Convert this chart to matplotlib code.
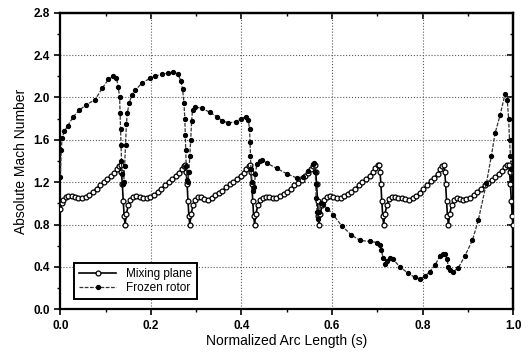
import numpy as np
import matplotlib
matplotlib.use("Agg")
import matplotlib.pyplot as plt
from matplotlib.ticker import MultipleLocator, FormatStrFormatter

plt.rcParams['font.family'] = ['Liberation Sans', 'DejaVu Sans']

# mixing plane (open circles)
mix_x = [0.000, 0.003, 0.007, 0.012, 0.018, 0.025, 0.032, 0.040, 0.048, 0.056, 0.064, 0.072, 0.080,
         0.088, 0.096, 0.104, 0.112, 0.119, 0.125, 0.130, 0.133, 0.135, 0.137, 0.139, 0.141,
         0.143, 0.146, 0.150, 0.155, 0.161, 0.168, 0.175, 0.183, 0.191, 0.199, 0.207, 0.215, 0.223,
         0.231, 0.239, 0.247, 0.255, 0.262, 0.268, 0.273, 0.276, 0.278, 0.280, 0.282, 0.284,
         0.286, 0.289, 0.293, 0.298, 0.304, 0.311, 0.318, 0.326, 0.334, 0.342, 0.350, 0.358, 0.366,
         0.374, 0.382, 0.390, 0.398, 0.405, 0.411, 0.416, 0.419, 0.421, 0.423, 0.425, 0.427,
         0.429, 0.432, 0.436, 0.441, 0.447, 0.454, 0.461, 0.469, 0.477, 0.485, 0.493, 0.501, 0.509,
         0.517, 0.525, 0.533, 0.541, 0.548, 0.554, 0.559, 0.562, 0.564, 0.566, 0.568, 0.570,
         0.571, 0.574, 0.578, 0.583, 0.589, 0.596, 0.603, 0.611, 0.619, 0.627, 0.635, 0.643, 0.651,
         0.659, 0.667, 0.675, 0.683, 0.690, 0.696, 0.701, 0.704, 0.706, 0.708, 0.710, 0.712,
         0.714, 0.717, 0.721, 0.726, 0.732, 0.739, 0.746, 0.754, 0.762, 0.770, 0.778, 0.786, 0.794,
         0.802, 0.810, 0.818, 0.826, 0.833, 0.839, 0.844, 0.847, 0.849, 0.851, 0.853, 0.855,
         0.857, 0.860, 0.864, 0.869, 0.875, 0.882, 0.889, 0.897, 0.905, 0.913, 0.921, 0.929, 0.937,
         0.945, 0.953, 0.961, 0.969, 0.976, 0.982, 0.987, 0.990, 0.992, 0.994, 0.996, 0.998, 1.000]
mix_y = [0.95, 1.00, 1.03, 1.06, 1.07, 1.07, 1.06, 1.05, 1.05, 1.06, 1.08, 1.11, 1.14,
         1.17, 1.20, 1.23, 1.26, 1.29, 1.32, 1.35, 1.36, 1.30, 1.18, 1.02, 0.88,
         0.80, 0.90, 0.98, 1.03, 1.06, 1.07, 1.06, 1.05, 1.05, 1.06, 1.08, 1.11, 1.14,
         1.17, 1.20, 1.23, 1.26, 1.29, 1.32, 1.35, 1.36, 1.30, 1.18, 1.02, 0.88,
         0.80, 0.90, 0.98, 1.03, 1.06, 1.06, 1.04, 1.03, 1.05, 1.08, 1.10, 1.12, 1.15,
         1.18, 1.20, 1.23, 1.26, 1.29, 1.32, 1.35, 1.36, 1.30, 1.18, 1.02, 0.88,
         0.80, 0.90, 0.98, 1.03, 1.05, 1.06, 1.06, 1.05, 1.05, 1.07, 1.09, 1.11, 1.14,
         1.17, 1.19, 1.22, 1.26, 1.29, 1.32, 1.35, 1.36, 1.30, 1.18, 1.02, 0.88,
         0.80, 0.90, 0.98, 1.03, 1.06, 1.07, 1.06, 1.05, 1.05, 1.07, 1.09, 1.11, 1.14,
         1.17, 1.20, 1.23, 1.26, 1.30, 1.33, 1.36, 1.36, 1.30, 1.18, 1.02, 0.88,
         0.80, 0.90, 0.98, 1.04, 1.06, 1.06, 1.05, 1.05, 1.04, 1.03, 1.05, 1.07, 1.10,
         1.14, 1.17, 1.21, 1.24, 1.28, 1.32, 1.35, 1.36, 1.30, 1.18, 1.02, 0.88,
         0.80, 0.90, 0.98, 1.03, 1.05, 1.04, 1.03, 1.04, 1.05, 1.08, 1.11, 1.14, 1.17,
         1.19, 1.22, 1.25, 1.28, 1.31, 1.34, 1.36, 1.36, 1.30, 1.18, 1.02, 0.88, 0.80]

# frozen rotor (filled dots)
frz_x = [0.000, 0.002, 0.004, 0.009, 0.016, 0.029, 0.042, 0.057, 0.077, 0.093, 0.106, 0.117, 0.124,
         0.128, 0.131, 0.132, 0.133, 0.134, 0.135, 0.136, 0.138, 0.140, 0.142, 0.144, 0.146, 0.148,
         0.152, 0.158, 0.166, 0.181, 0.198, 0.209, 0.224, 0.238, 0.249, 0.260, 0.266, 0.270, 0.273,
         0.275, 0.276, 0.277, 0.278, 0.280, 0.282, 0.284, 0.286, 0.288, 0.290, 0.292, 0.297, 0.312,
         0.330, 0.345, 0.358, 0.371, 0.389, 0.400, 0.410, 0.415, 0.418, 0.419, 0.420, 0.421, 0.423,
         0.425, 0.428, 0.431, 0.434, 0.440, 0.445, 0.456, 0.478, 0.500, 0.522, 0.536, 0.548, 0.557,
         0.561, 0.563, 0.564, 0.565, 0.567, 0.569, 0.572, 0.575, 0.580, 0.590, 0.603, 0.621, 0.643,
         0.662, 0.684, 0.700, 0.705, 0.709, 0.713, 0.717, 0.722, 0.728, 0.735, 0.750, 0.768, 0.783,
         0.794, 0.805, 0.816, 0.828, 0.838, 0.845, 0.850, 0.854, 0.857, 0.860, 0.868, 0.879, 0.893,
         0.910, 0.923, 0.941, 0.952, 0.960, 0.971, 0.982, 0.987, 0.990, 0.992, 0.994, 0.996, 0.998,
         1.000]
frz_y = [1.25, 1.50, 1.62, 1.68, 1.73, 1.82, 1.88, 1.93, 1.98, 2.09, 2.17, 2.20, 2.18,
         2.10, 2.00, 1.85, 1.70, 1.55, 1.40, 1.28, 1.18, 1.20, 1.35, 1.55, 1.75, 1.85,
         1.95, 2.02, 2.07, 2.14, 2.18, 2.20, 2.22, 2.23, 2.24, 2.22, 2.16, 2.08, 1.95,
         1.80, 1.65, 1.50, 1.35, 1.22, 1.20, 1.30, 1.45, 1.60, 1.78, 1.88, 1.91, 1.90,
         1.86, 1.82, 1.78, 1.76, 1.77, 1.80, 1.82, 1.79, 1.70, 1.58, 1.45, 1.32, 1.20,
         1.12, 1.15, 1.28, 1.37, 1.40, 1.41, 1.38, 1.33, 1.28, 1.24, 1.25, 1.31, 1.37,
         1.38, 1.30, 1.18, 1.05, 0.92, 0.85, 0.92, 1.00, 0.99, 0.95, 0.89, 0.79, 0.70,
         0.65, 0.64, 0.63, 0.61, 0.56, 0.48, 0.43, 0.46, 0.48, 0.47, 0.40, 0.34, 0.30,
         0.285, 0.31, 0.355, 0.42, 0.50, 0.52, 0.52, 0.47, 0.40, 0.37, 0.355, 0.39, 0.50,
         0.65, 0.84, 1.19, 1.45, 1.66, 1.83, 2.03, 1.98, 1.80, 1.60, 1.45, 1.32, 1.25,
         1.22]

fig = plt.figure(figsize=(5.29, 3.55), dpi=100)
ax = fig.add_axes([0.114, 0.129, 0.856, 0.835])

ax.plot(mix_x, mix_y, color='black', lw=1.2, marker='o', ms=3.5, mfc='white',
        mec='black', mew=0.9, label='Mixing plane', zorder=3)
ax.plot(frz_x, frz_y, color='0.2', lw=0.9, ls=(0, (3, 1.2)), marker='o', ms=2.8,
        mfc='black', mec='black', label='Frozen rotor', zorder=4)

ax.set_xlim(0, 1.0)
ax.set_ylim(0, 2.8)
ax.xaxis.set_major_locator(MultipleLocator(0.2))
ax.xaxis.set_minor_locator(MultipleLocator(0.1))
ax.yaxis.set_major_locator(MultipleLocator(0.4))
ax.yaxis.set_minor_locator(MultipleLocator(0.2))
ax.xaxis.set_major_formatter(FormatStrFormatter('%.1f'))
ax.yaxis.set_major_formatter(FormatStrFormatter('%.1f'))
ax.tick_params(which='major', direction='out', length=4, width=1.2, labelsize=8.5)
ax.tick_params(which='minor', direction='out', length=2.5, width=1.0)
for lab in ax.get_xticklabels() + ax.get_yticklabels():
    lab.set_fontweight('bold')

# mirrored ticks on top and right pointing inward
top = ax.secondary_xaxis('top')
top.xaxis.set_major_locator(MultipleLocator(0.2))
top.xaxis.set_minor_locator(MultipleLocator(0.1))
top.tick_params(which='major', direction='in', length=4, width=1.2, labeltop=False)
top.tick_params(which='minor', direction='in', length=2.5, width=1.0)
right = ax.secondary_yaxis('right')
right.yaxis.set_major_locator(MultipleLocator(0.4))
right.yaxis.set_minor_locator(MultipleLocator(0.2))
right.tick_params(which='major', direction='in', length=4, width=1.2, labelright=False)
right.tick_params(which='minor', direction='in', length=2.5, width=1.0)

for sp in ax.spines.values():
    sp.set_linewidth(1.6)
for sp in top.spines.values():
    sp.set_linewidth(1.6)
for sp in right.spines.values():
    sp.set_linewidth(1.6)

ax.grid(True, which='major', color='0.35', ls=':', lw=0.8)

ax.set_xlabel('Normalized Arc Length (s)', fontsize=10, labelpad=2)
ax.set_ylabel('Absolute Mach Number', fontsize=10, labelpad=4)

leg = ax.legend(loc='lower left', bbox_to_anchor=(0.03, 0.035), fontsize=8.5,
                frameon=True, fancybox=False, edgecolor='black', framealpha=1,
                borderpad=0.4, labelspacing=0.2, handlelength=3.2, borderaxespad=0)
leg.get_frame().set_linewidth(1.4)

fig.savefig('out.png', dpi=100)
